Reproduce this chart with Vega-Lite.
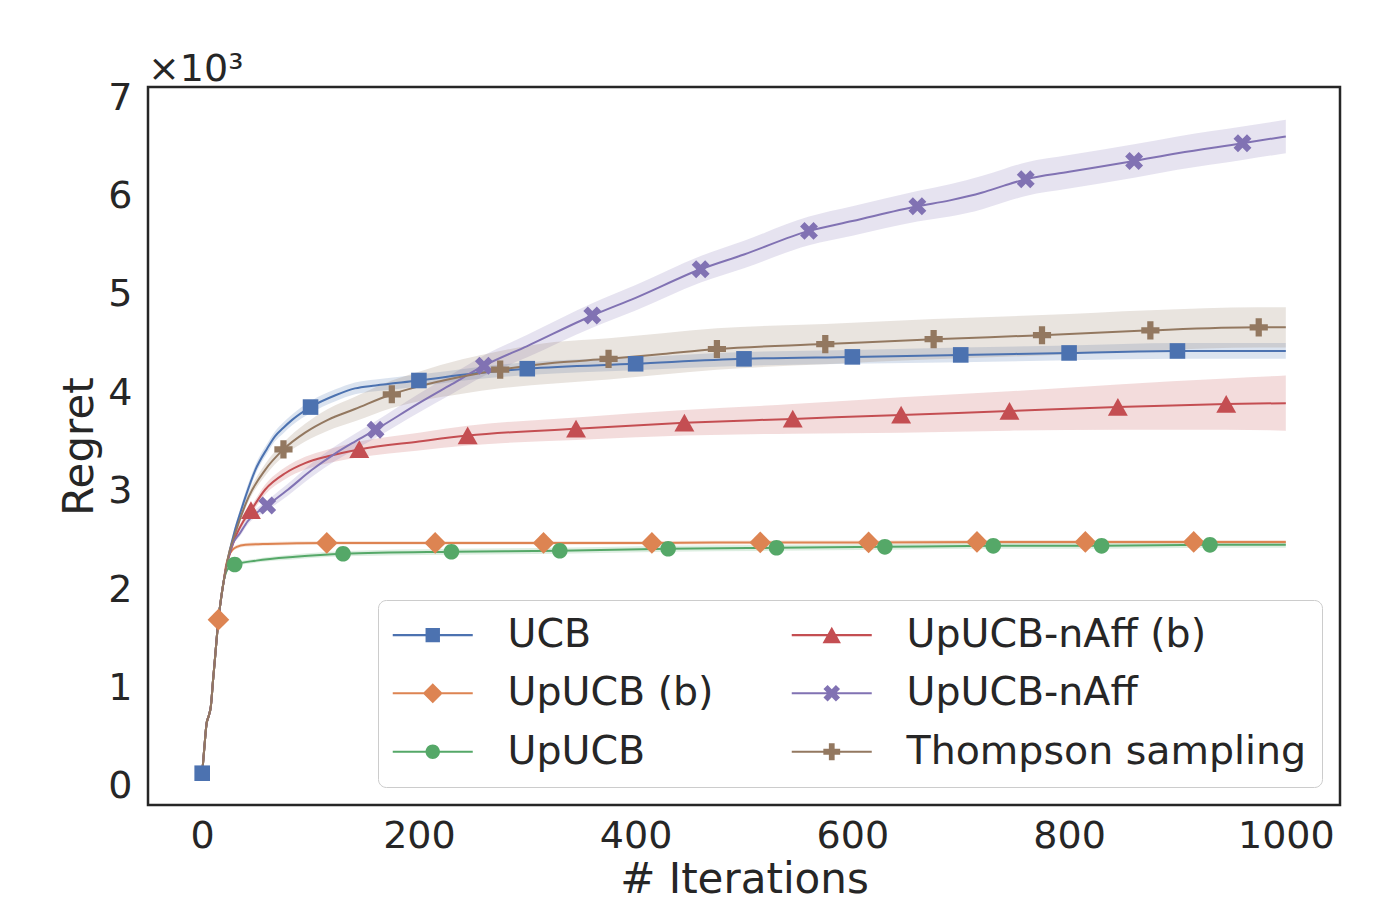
{
  "$schema": "https://vega.github.io/schema/vega-lite/v6.json",
  "width": 1192,
  "height": 718,
  "autosize": "none",
  "padding": {"left": 148, "top": 87, "right": 45, "bottom": 97},
  "background": "white",
  "title": {"text": "×10³", "anchor": "start", "frame": "group", "fontSize": 38, "font": "DejaVu Sans", "fontWeight": "normal", "color": "#262626", "offset": -10},
  "config": {
    "font": "DejaVu Sans",
    "view": {"stroke": "#262626", "strokeWidth": 2.5},
    "axis": {"grid": false, "ticks": false, "domain": false, "labelFontSize": 38, "titleFontSize": 42, "labelColor": "#262626", "titleColor": "#262626", "titleFontWeight": "normal", "labelFont": "DejaVu Sans", "titleFont": "DejaVu Sans"}
  },
  "datasets": {
    "curves": [
      {"s":"UCB","x":0,"y":140,"lo":140,"hi":140},{"s":"UCB","x":2,"y":400,"lo":400,"hi":400},{"s":"UCB","x":4,"y":640,"lo":640,"hi":640},{"s":"UCB","x":6,"y":720,"lo":720,"hi":720},{"s":"UCB","x":8,"y":820,"lo":820,"hi":820},{"s":"UCB","x":10,"y":1080,"lo":1080,"hi":1080},{"s":"UCB","x":12,"y":1330,"lo":1330,"hi":1330},{"s":"UCB","x":15,"y":1700,"lo":1700,"hi":1700},{"s":"UCB","x":18,"y":1960,"lo":1960,"hi":1960},{"s":"UCB","x":20,"y":2100,"lo":2100,"hi":2100},
      {"s":"UCB","x":22,"y":2220,"lo":2200,"hi":2240},{"s":"UCB","x":25,"y":2380,"lo":2350,"hi":2410},{"s":"UCB","x":30,"y":2600,"lo":2560,"hi":2640},{"s":"UCB","x":35,"y":2780,"lo":2735,"hi":2825},{"s":"UCB","x":40,"y":2950,"lo":2900,"hi":3000},{"s":"UCB","x":49,"y":3220,"lo":3170,"hi":3270},{"s":"UCB","x":60,"y":3440,"lo":3390,"hi":3490},{"s":"UCB","x":67,"y":3560,"lo":3510,"hi":3610},{"s":"UCB","x":75,"y":3650,"lo":3595,"hi":3705},{"s":"UCB","x":83,"y":3730,"lo":3675,"hi":3785},{"s":"UCB","x":100,"y":3860,"lo":3800,"hi":3920},{"s":"UCB","x":123,"y":3980,"lo":3920,"hi":4040},{"s":"UCB","x":141,"y":4050,"lo":3990,"hi":4110},{"s":"UCB","x":160,"y":4080,"lo":4020,"hi":4140},{"s":"UCB","x":200,"y":4130,"lo":4070,"hi":4190},{"s":"UCB","x":250,"y":4200,"lo":4140,"hi":4260},{"s":"UCB","x":300,"y":4250,"lo":4185,"hi":4315},{"s":"UCB","x":400,"y":4300,"lo":4235,"hi":4365},{"s":"UCB","x":500,"y":4350,"lo":4280,"hi":4420},{"s":"UCB","x":600,"y":4370,"lo":4300,"hi":4440},{"s":"UCB","x":700,"y":4390,"lo":4315,"hi":4465},{"s":"UCB","x":800,"y":4410,"lo":4335,"hi":4485},{"s":"UCB","x":900,"y":4430,"lo":4350,"hi":4510},{"s":"UCB","x":1000,"y":4430,"lo":4350,"hi":4510},

      {"s":"UpUCB (b)","x":0,"y":140,"lo":140,"hi":140},{"s":"UpUCB (b)","x":2,"y":400,"lo":400,"hi":400},{"s":"UpUCB (b)","x":4,"y":640,"lo":640,"hi":640},{"s":"UpUCB (b)","x":6,"y":720,"lo":720,"hi":720},{"s":"UpUCB (b)","x":8,"y":820,"lo":820,"hi":820},{"s":"UpUCB (b)","x":10,"y":1080,"lo":1080,"hi":1080},{"s":"UpUCB (b)","x":12,"y":1330,"lo":1330,"hi":1330},{"s":"UpUCB (b)","x":15,"y":1700,"lo":1700,"hi":1700},{"s":"UpUCB (b)","x":18,"y":1960,"lo":1960,"hi":1960},{"s":"UpUCB (b)","x":20,"y":2100,"lo":2100,"hi":2100},
      {"s":"UpUCB (b)","x":22,"y":2250,"lo":2240,"hi":2260},{"s":"UpUCB (b)","x":25,"y":2360,"lo":2345,"hi":2375},{"s":"UpUCB (b)","x":28,"y":2410,"lo":2395,"hi":2425},{"s":"UpUCB (b)","x":32,"y":2440,"lo":2420,"hi":2460},{"s":"UpUCB (b)","x":40,"y":2460,"lo":2440,"hi":2480},{"s":"UpUCB (b)","x":60,"y":2470,"lo":2450,"hi":2490},{"s":"UpUCB (b)","x":115,"y":2480,"lo":2460,"hi":2500},{"s":"UpUCB (b)","x":215,"y":2480,"lo":2460,"hi":2500},{"s":"UpUCB (b)","x":315,"y":2480,"lo":2460,"hi":2500},{"s":"UpUCB (b)","x":415,"y":2480,"lo":2460,"hi":2500},{"s":"UpUCB (b)","x":515,"y":2485,"lo":2465,"hi":2505},{"s":"UpUCB (b)","x":615,"y":2485,"lo":2465,"hi":2505},{"s":"UpUCB (b)","x":715,"y":2490,"lo":2470,"hi":2510},{"s":"UpUCB (b)","x":815,"y":2490,"lo":2470,"hi":2510},{"s":"UpUCB (b)","x":915,"y":2490,"lo":2470,"hi":2510},{"s":"UpUCB (b)","x":1000,"y":2490,"lo":2470,"hi":2510},

      {"s":"UpUCB","x":0,"y":140,"lo":140,"hi":140},{"s":"UpUCB","x":2,"y":400,"lo":400,"hi":400},{"s":"UpUCB","x":4,"y":640,"lo":640,"hi":640},{"s":"UpUCB","x":6,"y":720,"lo":720,"hi":720},{"s":"UpUCB","x":8,"y":820,"lo":820,"hi":820},{"s":"UpUCB","x":10,"y":1080,"lo":1080,"hi":1080},{"s":"UpUCB","x":12,"y":1330,"lo":1330,"hi":1330},{"s":"UpUCB","x":15,"y":1700,"lo":1700,"hi":1700},{"s":"UpUCB","x":18,"y":1960,"lo":1960,"hi":1960},{"s":"UpUCB","x":20,"y":2100,"lo":2100,"hi":2100},
      {"s":"UpUCB","x":22,"y":2180,"lo":2170,"hi":2190},{"s":"UpUCB","x":25,"y":2230,"lo":2215,"hi":2245},{"s":"UpUCB","x":30,"y":2260,"lo":2240,"hi":2280},{"s":"UpUCB","x":50,"y":2300,"lo":2280,"hi":2320},{"s":"UpUCB","x":86,"y":2340,"lo":2315,"hi":2365},{"s":"UpUCB","x":130,"y":2370,"lo":2345,"hi":2395},{"s":"UpUCB","x":230,"y":2390,"lo":2360,"hi":2420},{"s":"UpUCB","x":330,"y":2400,"lo":2370,"hi":2430},{"s":"UpUCB","x":430,"y":2420,"lo":2390,"hi":2450},{"s":"UpUCB","x":530,"y":2430,"lo":2400,"hi":2460},{"s":"UpUCB","x":630,"y":2440,"lo":2410,"hi":2470},{"s":"UpUCB","x":730,"y":2450,"lo":2420,"hi":2480},{"s":"UpUCB","x":830,"y":2450,"lo":2420,"hi":2480},{"s":"UpUCB","x":930,"y":2460,"lo":2430,"hi":2490},{"s":"UpUCB","x":1000,"y":2460,"lo":2430,"hi":2490},

      {"s":"UpUCB-nAff (b)","x":0,"y":140,"lo":140,"hi":140},{"s":"UpUCB-nAff (b)","x":2,"y":400,"lo":400,"hi":400},{"s":"UpUCB-nAff (b)","x":4,"y":640,"lo":640,"hi":640},{"s":"UpUCB-nAff (b)","x":6,"y":720,"lo":720,"hi":720},{"s":"UpUCB-nAff (b)","x":8,"y":820,"lo":820,"hi":820},{"s":"UpUCB-nAff (b)","x":10,"y":1080,"lo":1080,"hi":1080},{"s":"UpUCB-nAff (b)","x":12,"y":1330,"lo":1330,"hi":1330},{"s":"UpUCB-nAff (b)","x":15,"y":1700,"lo":1700,"hi":1700},{"s":"UpUCB-nAff (b)","x":18,"y":1960,"lo":1960,"hi":1960},{"s":"UpUCB-nAff (b)","x":20,"y":2100,"lo":2100,"hi":2100},
      {"s":"UpUCB-nAff (b)","x":22,"y":2230,"lo":2210,"hi":2250},{"s":"UpUCB-nAff (b)","x":25,"y":2350,"lo":2325,"hi":2375},{"s":"UpUCB-nAff (b)","x":30,"y":2520,"lo":2490,"hi":2550},{"s":"UpUCB-nAff (b)","x":38,"y":2700,"lo":2665,"hi":2735},{"s":"UpUCB-nAff (b)","x":45,"y":2810,"lo":2770,"hi":2850},{"s":"UpUCB-nAff (b)","x":58,"y":3020,"lo":2970,"hi":3070},{"s":"UpUCB-nAff (b)","x":77,"y":3190,"lo":3130,"hi":3250},{"s":"UpUCB-nAff (b)","x":95,"y":3290,"lo":3225,"hi":3355},{"s":"UpUCB-nAff (b)","x":116,"y":3360,"lo":3290,"hi":3430},{"s":"UpUCB-nAff (b)","x":145,"y":3430,"lo":3350,"hi":3510},{"s":"UpUCB-nAff (b)","x":200,"y":3510,"lo":3420,"hi":3600},{"s":"UpUCB-nAff (b)","x":245,"y":3570,"lo":3470,"hi":3670},{"s":"UpUCB-nAff (b)","x":345,"y":3640,"lo":3525,"hi":3755},{"s":"UpUCB-nAff (b)","x":445,"y":3700,"lo":3570,"hi":3830},{"s":"UpUCB-nAff (b)","x":545,"y":3740,"lo":3590,"hi":3890},{"s":"UpUCB-nAff (b)","x":645,"y":3780,"lo":3600,"hi":3960},{"s":"UpUCB-nAff (b)","x":745,"y":3820,"lo":3620,"hi":4020},{"s":"UpUCB-nAff (b)","x":845,"y":3860,"lo":3630,"hi":4090},{"s":"UpUCB-nAff (b)","x":945,"y":3890,"lo":3630,"hi":4150},{"s":"UpUCB-nAff (b)","x":1000,"y":3900,"lo":3620,"hi":4180},

      {"s":"UpUCB-nAff","x":0,"y":140,"lo":140,"hi":140},{"s":"UpUCB-nAff","x":2,"y":400,"lo":400,"hi":400},{"s":"UpUCB-nAff","x":4,"y":640,"lo":640,"hi":640},{"s":"UpUCB-nAff","x":6,"y":720,"lo":720,"hi":720},{"s":"UpUCB-nAff","x":8,"y":820,"lo":820,"hi":820},{"s":"UpUCB-nAff","x":10,"y":1080,"lo":1080,"hi":1080},{"s":"UpUCB-nAff","x":12,"y":1330,"lo":1330,"hi":1330},{"s":"UpUCB-nAff","x":15,"y":1700,"lo":1700,"hi":1700},{"s":"UpUCB-nAff","x":18,"y":1960,"lo":1960,"hi":1960},{"s":"UpUCB-nAff","x":20,"y":2100,"lo":2100,"hi":2100},
      {"s":"UpUCB-nAff","x":22,"y":2220,"lo":2200,"hi":2240},{"s":"UpUCB-nAff","x":27,"y":2440,"lo":2415,"hi":2465},{"s":"UpUCB-nAff","x":35,"y":2580,"lo":2550,"hi":2610},{"s":"UpUCB-nAff","x":42,"y":2700,"lo":2665,"hi":2735},{"s":"UpUCB-nAff","x":60,"y":2860,"lo":2810,"hi":2910},{"s":"UpUCB-nAff","x":79,"y":3020,"lo":2960,"hi":3080},{"s":"UpUCB-nAff","x":101,"y":3220,"lo":3150,"hi":3290},{"s":"UpUCB-nAff","x":123,"y":3390,"lo":3315,"hi":3465},{"s":"UpUCB-nAff","x":141,"y":3510,"lo":3430,"hi":3590},{"s":"UpUCB-nAff","x":160,"y":3630,"lo":3545,"hi":3715},{"s":"UpUCB-nAff","x":200,"y":3900,"lo":3805,"hi":3995},{"s":"UpUCB-nAff","x":230,"y":4090,"lo":3990,"hi":4190},{"s":"UpUCB-nAff","x":260,"y":4280,"lo":4175,"hi":4385},{"s":"UpUCB-nAff","x":300,"y":4480,"lo":4365,"hi":4595},{"s":"UpUCB-nAff","x":360,"y":4790,"lo":4665,"hi":4915},{"s":"UpUCB-nAff","x":400,"y":4970,"lo":4840,"hi":5100},{"s":"UpUCB-nAff","x":460,"y":5260,"lo":5125,"hi":5395},{"s":"UpUCB-nAff","x":500,"y":5410,"lo":5270,"hi":5550},{"s":"UpUCB-nAff","x":560,"y":5650,"lo":5505,"hi":5795},{"s":"UpUCB-nAff","x":600,"y":5750,"lo":5600,"hi":5900},{"s":"UpUCB-nAff","x":660,"y":5900,"lo":5745,"hi":6055},{"s":"UpUCB-nAff","x":690,"y":5960,"lo":5795,"hi":6125},{"s":"UpUCB-nAff","x":720,"y":6040,"lo":5870,"hi":6210},{"s":"UpUCB-nAff","x":740,"y":6110,"lo":5940,"hi":6280},{"s":"UpUCB-nAff","x":760,"y":6175,"lo":6005,"hi":6345},{"s":"UpUCB-nAff","x":800,"y":6250,"lo":6080,"hi":6420},{"s":"UpUCB-nAff","x":860,"y":6360,"lo":6190,"hi":6530},{"s":"UpUCB-nAff","x":900,"y":6440,"lo":6270,"hi":6610},{"s":"UpUCB-nAff","x":960,"y":6540,"lo":6370,"hi":6710},{"s":"UpUCB-nAff","x":1000,"y":6610,"lo":6440,"hi":6780},

      {"s":"Thompson sampling","x":0,"y":140,"lo":140,"hi":140},{"s":"Thompson sampling","x":2,"y":400,"lo":400,"hi":400},{"s":"Thompson sampling","x":4,"y":640,"lo":640,"hi":640},{"s":"Thompson sampling","x":6,"y":720,"lo":720,"hi":720},{"s":"Thompson sampling","x":8,"y":820,"lo":820,"hi":820},{"s":"Thompson sampling","x":10,"y":1080,"lo":1080,"hi":1080},{"s":"Thompson sampling","x":12,"y":1330,"lo":1330,"hi":1330},{"s":"Thompson sampling","x":15,"y":1700,"lo":1700,"hi":1700},{"s":"Thompson sampling","x":18,"y":1960,"lo":1960,"hi":1960},{"s":"Thompson sampling","x":20,"y":2100,"lo":2100,"hi":2100},
      {"s":"Thompson sampling","x":22,"y":2220,"lo":2205,"hi":2235},{"s":"Thompson sampling","x":24,"y":2340,"lo":2320,"hi":2360},{"s":"Thompson sampling","x":30,"y":2560,"lo":2530,"hi":2590},{"s":"Thompson sampling","x":43,"y":2950,"lo":2905,"hi":2995},{"s":"Thompson sampling","x":58,"y":3220,"lo":3160,"hi":3280},{"s":"Thompson sampling","x":75,"y":3430,"lo":3360,"hi":3500},{"s":"Thompson sampling","x":95,"y":3600,"lo":3510,"hi":3690},{"s":"Thompson sampling","x":116,"y":3730,"lo":3620,"hi":3840},{"s":"Thompson sampling","x":141,"y":3840,"lo":3715,"hi":3965},{"s":"Thompson sampling","x":175,"y":3990,"lo":3850,"hi":4130},{"s":"Thompson sampling","x":200,"y":4070,"lo":3920,"hi":4220},{"s":"Thompson sampling","x":240,"y":4170,"lo":3995,"hi":4345},{"s":"Thompson sampling","x":275,"y":4240,"lo":4050,"hi":4430},{"s":"Thompson sampling","x":325,"y":4310,"lo":4100,"hi":4520},{"s":"Thompson sampling","x":375,"y":4350,"lo":4140,"hi":4560},{"s":"Thompson sampling","x":425,"y":4400,"lo":4190,"hi":4610},{"s":"Thompson sampling","x":475,"y":4450,"lo":4240,"hi":4660},{"s":"Thompson sampling","x":575,"y":4500,"lo":4295,"hi":4705},{"s":"Thompson sampling","x":675,"y":4550,"lo":4345,"hi":4755},{"s":"Thompson sampling","x":775,"y":4590,"lo":4385,"hi":4795},{"s":"Thompson sampling","x":875,"y":4640,"lo":4435,"hi":4845},{"s":"Thompson sampling","x":975,"y":4670,"lo":4465,"hi":4875},{"s":"Thompson sampling","x":1000,"y":4670,"lo":4465,"hi":4875}
    ],
    "markers": [
      {"s":"UCB","x":0,"y":140},{"s":"UCB","x":100,"y":3860},{"s":"UCB","x":200,"y":4130},{"s":"UCB","x":300,"y":4250},{"s":"UCB","x":400,"y":4300},{"s":"UCB","x":500,"y":4350},{"s":"UCB","x":600,"y":4370},{"s":"UCB","x":700,"y":4390},{"s":"UCB","x":800,"y":4410},{"s":"UCB","x":900,"y":4430},
      {"s":"UpUCB (b)","x":15,"y":1700},{"s":"UpUCB (b)","x":115,"y":2480},{"s":"UpUCB (b)","x":215,"y":2480},{"s":"UpUCB (b)","x":315,"y":2480},{"s":"UpUCB (b)","x":415,"y":2480},{"s":"UpUCB (b)","x":515,"y":2485},{"s":"UpUCB (b)","x":615,"y":2485},{"s":"UpUCB (b)","x":715,"y":2490},{"s":"UpUCB (b)","x":815,"y":2490},{"s":"UpUCB (b)","x":915,"y":2490},
      {"s":"UpUCB","x":30,"y":2260},{"s":"UpUCB","x":130,"y":2370},{"s":"UpUCB","x":230,"y":2390},{"s":"UpUCB","x":330,"y":2400},{"s":"UpUCB","x":430,"y":2420},{"s":"UpUCB","x":530,"y":2430},{"s":"UpUCB","x":630,"y":2440},{"s":"UpUCB","x":730,"y":2450},{"s":"UpUCB","x":830,"y":2450},{"s":"UpUCB","x":930,"y":2460},
      {"s":"UpUCB-nAff (b)","x":45,"y":2810},{"s":"UpUCB-nAff (b)","x":145,"y":3430},{"s":"UpUCB-nAff (b)","x":245,"y":3570},{"s":"UpUCB-nAff (b)","x":345,"y":3640},{"s":"UpUCB-nAff (b)","x":445,"y":3700},{"s":"UpUCB-nAff (b)","x":545,"y":3740},{"s":"UpUCB-nAff (b)","x":645,"y":3780},{"s":"UpUCB-nAff (b)","x":745,"y":3820},{"s":"UpUCB-nAff (b)","x":845,"y":3860},{"s":"UpUCB-nAff (b)","x":945,"y":3890},
      {"s":"UpUCB-nAff","x":60,"y":2860},{"s":"UpUCB-nAff","x":160,"y":3630},{"s":"UpUCB-nAff","x":260,"y":4280},{"s":"UpUCB-nAff","x":360,"y":4790},{"s":"UpUCB-nAff","x":460,"y":5260},{"s":"UpUCB-nAff","x":560,"y":5650},{"s":"UpUCB-nAff","x":660,"y":5900},{"s":"UpUCB-nAff","x":760,"y":6175},{"s":"UpUCB-nAff","x":860,"y":6360},{"s":"UpUCB-nAff","x":960,"y":6540},
      {"s":"Thompson sampling","x":75,"y":3430},{"s":"Thompson sampling","x":175,"y":3990},{"s":"Thompson sampling","x":275,"y":4240},{"s":"Thompson sampling","x":375,"y":4350},{"s":"Thompson sampling","x":475,"y":4450},{"s":"Thompson sampling","x":575,"y":4500},{"s":"Thompson sampling","x":675,"y":4550},{"s":"Thompson sampling","x":775,"y":4590},{"s":"Thompson sampling","x":875,"y":4640},{"s":"Thompson sampling","x":975,"y":4670}
    ]
  },
  "encoding": {
    "x": {"field": "x", "type": "quantitative", "scale": {"domain": [-50, 1050], "nice": false, "zero": false},
          "axis": {"values": [0, 200, 400, 600, 800, 1000], "format": "d", "title": "# Iterations", "labelPadding": 12, "titlePadding": 4}}
  },
  "resolve": {"scale": {"color": "independent", "shape": "independent"}},
  "layer": [
    {
      "data": {"name": "curves"},
      "mark": {"type": "area", "opacity": 0.2, "interpolate": "monotone"},
      "encoding": {
        "y": {"field": "lo", "type": "quantitative", "scale": {"domain": [-183, 7112], "nice": false, "zero": false},
              "axis": {"values": [0,1000,2000,3000,4000,5000,6000,7000], "labelExpr": "format(datum.value/1000,'d')", "title": "Regret", "labelPadding": 16, "titlePadding": 6}},
        "y2": {"field": "hi"},
        "color": {"field": "s", "type": "nominal", "legend": null,
                  "scale": {"domain": ["UCB","UpUCB (b)","UpUCB","UpUCB-nAff (b)","UpUCB-nAff","Thompson sampling"],
                            "range": ["#4C72B0","#DD8452","#55A868","#C44E52","#8172B3","#937860"]}}
      }
    },
    {
      "data": {"name": "curves"},
      "mark": {"type": "line", "strokeWidth": 2, "interpolate": "monotone"},
      "encoding": {
        "y": {"field": "y", "type": "quantitative", "axis": {"values": [0,1000,2000,3000,4000,5000,6000,7000], "labelExpr": "format(datum.value/1000,'d')", "title": "Regret", "labelPadding": 16, "titlePadding": 6}},
        "color": {"field": "s", "type": "nominal", "legend": null,
                  "scale": {"domain": ["UCB","UpUCB (b)","UpUCB","UpUCB-nAff (b)","UpUCB-nAff","Thompson sampling"],
                            "range": ["#4C72B0","#DD8452","#55A868","#C44E52","#8172B3","#937860"]}}
      }
    },
    {
      "data": {"name": "markers"},
      "mark": {"type": "point", "filled": true, "opacity": 1, "size": 300, "strokeWidth": 0},
      "encoding": {
        "y": {"field": "y", "type": "quantitative", "axis": {"values": [0,1000,2000,3000,4000,5000,6000,7000], "labelExpr": "format(datum.value/1000,'d')", "title": "Regret", "labelPadding": 16, "titlePadding": 6}},
        "color": {"field": "s", "type": "nominal", "legend": null,
                  "scale": {"domain": ["UCB","UpUCB (b)","UpUCB","UpUCB-nAff (b)","UpUCB-nAff","Thompson sampling"],
                            "range": ["#4C72B0","#DD8452","#55A868","#C44E52","#8172B3","#937860"]}},
        "shape": {"field": "s", "type": "nominal", "legend": null,
                  "scale": {"domain": ["UCB","UpUCB (b)","UpUCB","UpUCB-nAff (b)","UpUCB-nAff","Thompson sampling"],
                            "range": [
                              "M-0.9,-0.9H0.9V0.9H-0.9Z",
                              "M0,-1.25L1.25,0L0,1.25L-1.25,0Z",
                              "M-0.9,0A0.9,0.9,0,1,1,0.9,0A0.9,0.9,0,1,1,-0.9,0Z",
                              "M0,-1.05L1.15,1L-1.15,1Z",
                              "M0.52,-1.035L1.035,-0.52L0.514,0L1.035,0.52L0.52,1.035L0,0.514L-0.52,1.035L-1.035,0.52L-0.514,0L-1.035,-0.52L-0.52,-1.035L0,-0.514Z",
                              "M-0.36,-1.05H0.36V-0.36H1.05V0.36H0.36V1.05H-0.36V0.36H-1.05V-0.36H-0.36Z"
                            ]}}
      }
    },
    {
      "data": {"name": "markers"},
      "mark": {"type": "point", "filled": true, "opacity": 0},
      "encoding": {
        "y": {"field": "y", "type": "quantitative", "axis": {"values": [0,1000,2000,3000,4000,5000,6000,7000], "labelExpr": "format(datum.value/1000,'d')", "title": "Regret", "labelPadding": 16, "titlePadding": 6}},
        "color": {"field": "s", "type": "nominal",
                  "scale": {"domain": ["UCB","UpUCB (b)","UpUCB","UpUCB-nAff (b)","UpUCB-nAff","Thompson sampling"],
                            "range": ["#4C72B0","#DD8452","#55A868","#C44E52","#8172B3","#937860"]},
                  "legend": {
                    "title": null, "orient": "none", "legendX": 230, "legendY": 513, "columns": 2,
                    "symbolSize": 256, "symbolOffset": 20, "labelOffset": 55, "labelLimit": 600, "labelFontSize": 39.5, "labelColor": "#262626", "labelFont": "DejaVu Sans",
                    "rowPadding": 17.5, "columnPadding": 77, "padding": 15,
                    "fillColor": "rgba(255,255,255,0.8)", "strokeColor": "#cccccc", "cornerRadius": 8, "symbolOpacity": 1, "symbolStrokeWidth": 0
                  }},
        "shape": {"field": "s", "type": "nominal",
                  "scale": {"domain": ["UCB","UpUCB (b)","UpUCB","UpUCB-nAff (b)","UpUCB-nAff","Thompson sampling"],
                            "range": [
                              "M-5,-0.13H5V0.13H-5Z M-0.9,-0.9H0.9V0.9H-0.9Z",
                              "M-5,-0.13H5V0.13H-5Z M0,-1.25L1.25,0L0,1.25L-1.25,0Z",
                              "M-5,-0.13H5V0.13H-5Z M-0.9,0A0.9,0.9,0,1,1,0.9,0A0.9,0.9,0,1,1,-0.9,0Z",
                              "M-5,-0.13H5V0.13H-5Z M0,-1.05L1.15,1L-1.15,1Z",
                              "M-5,-0.13H5V0.13H-5Z M0.52,-1.035L1.035,-0.52L0.514,0L1.035,0.52L0.52,1.035L0,0.514L-0.52,1.035L-1.035,0.52L-0.514,0L-1.035,-0.52L-0.52,-1.035L0,-0.514Z",
                              "M-5,-0.13H5V0.13H-5Z M-0.36,-1.05H0.36V-0.36H1.05V0.36H0.36V1.05H-0.36V0.36H-1.05V-0.36H-0.36Z"
                            ]},
                  "legend": {
                    "title": null, "orient": "none", "legendX": 230, "legendY": 513, "columns": 2,
                    "symbolSize": 256, "symbolOffset": 20, "labelOffset": 55, "labelLimit": 600, "labelFontSize": 39.5, "labelColor": "#262626", "labelFont": "DejaVu Sans",
                    "rowPadding": 17.5, "columnPadding": 77, "padding": 15,
                    "fillColor": "rgba(255,255,255,0.8)", "strokeColor": "#cccccc", "cornerRadius": 8, "symbolOpacity": 1, "symbolStrokeWidth": 0
                  }}
      }
    }
  ]
}
